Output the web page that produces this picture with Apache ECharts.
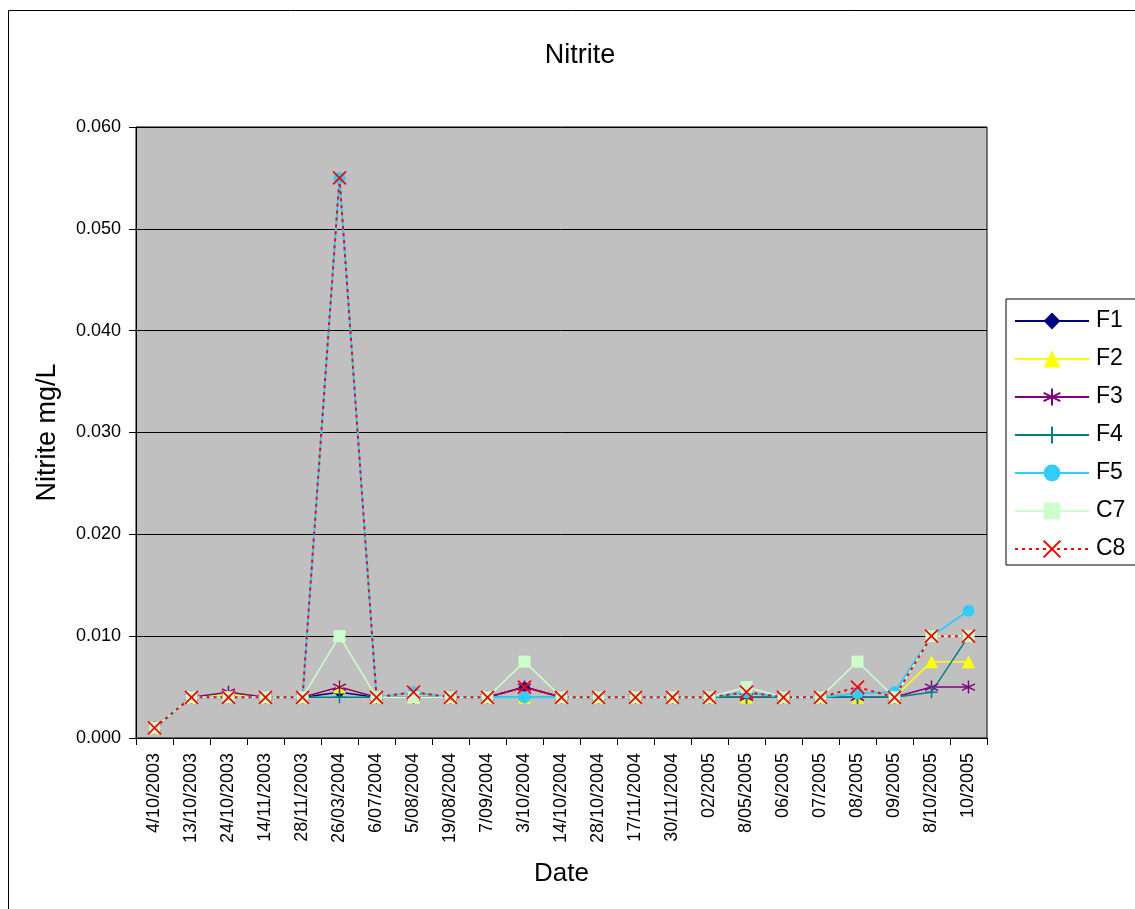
<!DOCTYPE html>
<html><head><meta charset="utf-8">
<script src="https://cdn.jsdelivr.net/npm/echarts@6/dist/echarts.min.js"></script>
<style>html,body{margin:0;padding:0;background:#fff}#c{width:1135px;height:909px}</style>
</head><body><div id="c"></div>
<script>
const categories = ["4/10/2003","13/10/2003","24/10/2003","14/11/2003","28/11/2003","26/03/2004","6/07/2004","5/08/2004","19/08/2004","7/09/2004","3/10/2004","14/10/2004","28/10/2004","17/11/2004","30/11/2004","02/2005","8/05/2005","06/2005","07/2005","08/2005","09/2005","8/10/2005","10/2005"];
const F1 = [0.001,0.004,0.004,0.004,0.004,0.0045,0.004,0.004,0.004,0.004,0.005,0.004,0.004,0.004,0.004,0.004,0.004,0.004,0.004,0.004,0.004,null,null];
const F2 = [0.001,0.004,0.0043,0.004,0.004,0.005,0.004,0.004,0.004,0.004,0.004,0.004,0.004,0.004,0.004,0.004,0.004,0.004,0.004,0.004,0.004,0.0075,0.0075];
const F3 = [0.001,0.004,0.0045,0.004,0.004,0.005,0.004,0.004,0.004,0.004,0.005,0.004,0.004,0.004,0.004,0.004,0.004,0.004,0.004,0.004,0.004,0.005,0.005];
const F4 = [0.001,0.004,0.004,0.004,0.004,0.004,0.004,0.004,0.004,0.004,0.004,0.004,0.004,0.004,0.004,0.004,0.004,0.004,0.004,0.004,0.004,0.0045,0.010];
const F5 = [0.001,0.004,0.004,0.004,0.004,0.055,0.004,0.0045,0.004,0.004,0.004,0.004,0.004,0.004,0.004,0.004,0.0045,0.004,0.004,0.0044,0.0045,0.010,0.0125];
const C7 = [0.001,0.004,0.004,0.004,0.004,0.010,0.004,0.004,0.004,0.004,0.0075,0.004,0.004,0.004,0.004,0.004,0.005,0.004,0.004,0.0075,0.004,0.010,0.010];
const C8 = [0.001,0.004,0.004,0.004,0.004,0.055,0.004,0.0045,0.004,0.004,0.005,0.004,0.004,0.004,0.004,0.004,0.0045,0.004,0.004,0.005,0.004,0.010,0.010];
const yTicks = [0,0.01,0.02,0.03,0.04,0.05,0.06];

const FONT = 'Liberation Sans, Arial, sans-serif';
const SYM_X = 'path://M0,0L10,10M10,0L0,10';
const SYM_PLUS = 'path://M5,0L5,10M0,5L10,5';
const SYM_STAR = 'path://M5,0L5,10M0.7,2.5L9.3,7.5M9.3,2.5L0.7,7.5';

function mk(name, data, color, symbol, size, opts) {
  opts = opts || {};
  return {
    name, type: 'line', data, symbol, symbolSize: size,
    connectNulls: false,
    lineStyle: { color, width: opts.width || 1.5, type: opts.dash || 'solid' },
    itemStyle: opts.stroke ? { color: color, borderColor: color, borderWidth: opts.bw || 1.5 } : { color, borderWidth: 0 },
    emphasis: { disabled: true },
    animation: false, z: opts.z || 2
  };
}

const chart = echarts.init(document.getElementById('c'), null, { renderer: 'canvas' });
chart.setOption({
  backgroundColor: '#fff',
  animation: false,
  title: { text: 'Nitrite', left: 575, top: 37, textAlign: 'center',
    textStyle: { fontFamily: FONT, fontSize: 27, fontWeight: 'normal', color: '#000' } },
  graphic: [{ type: 'rect', shape: { x: 8.5, y: 10.5, width: 1200, height: 1000 },
    style: { fill: 'none', stroke: '#000', lineWidth: 1 }, z: -10 }],
  grid: { left: 136, right: 148, top: 127, bottom: 171, show: true,
    backgroundColor: '#C0C0C0', borderColor: '#000', borderWidth: 1 },
  legend: {
    left: 1006, top: 299, orient: 'vertical',
    backgroundColor: '#fff', borderColor: '#000', borderWidth: 1,
    padding: [10, 40, 4, 8], itemGap: 14, itemWidth: 74, itemHeight: 21,
    textStyle: { fontFamily: FONT, fontSize: 23, lineHeight: 24, color: '#000', padding: [0,0,0,2] },
    data: ['F1','F2','F3','F4','F5','C7','C8']
  },
  xAxis: {
    type: 'category', data: categories, boundaryGap: true,
    name: 'Date', nameLocation: 'middle', nameGap: 123,
    nameTextStyle: { fontFamily: FONT, fontSize: 26, color: '#000' },
    axisLine: { lineStyle: { color: '#000', width: 1 } },
    axisTick: { show: true, alignWithLabel: false, length: 7, lineStyle: { color: '#000' } },
    axisLabel: { rotate: 90, interval: 0, fontFamily: FONT, fontSize: 18, color: '#000', margin: 15 },
    splitLine: { show: false }
  },
  yAxis: {
    type: 'value', min: 0, max: 0.06, interval: 0.01,
    name: 'Nitrite mg/L', nameLocation: 'middle', nameGap: 75,
    nameTextStyle: { fontFamily: FONT, fontSize: 27, color: '#000' },
    axisLine: { show: true, lineStyle: { color: '#000' } },
    axisTick: { show: true, length: 7, lineStyle: { color: '#000' } },
    axisLabel: { fontFamily: FONT, fontSize: 18, color: '#000', margin: 15,
      formatter: v => v.toFixed(3) },
    splitLine: { show: true, lineStyle: { color: '#000', width: 1 } }
  },
  series: [
    mk('F1', F1, '#000080', 'diamond', 12),
    mk('F2', F2, '#FFFF00', 'triangle', 13),
    mk('F3', F3, '#800080', SYM_STAR, 13, { stroke: true }),
    mk('F4', F4, '#008080', SYM_PLUS, 12, { stroke: true }),
    mk('F5', F5, '#33CCFF', 'circle', 12, { width: 2 }),
    mk('C7', C7, '#CCFFCC', 'rect', 12),
    mk('C8', C8, '#FF0000', SYM_X, 13, { stroke: true, dash: [3, 4], width: 2, bw: 1.8 })
  ]
});
</script></body></html>
